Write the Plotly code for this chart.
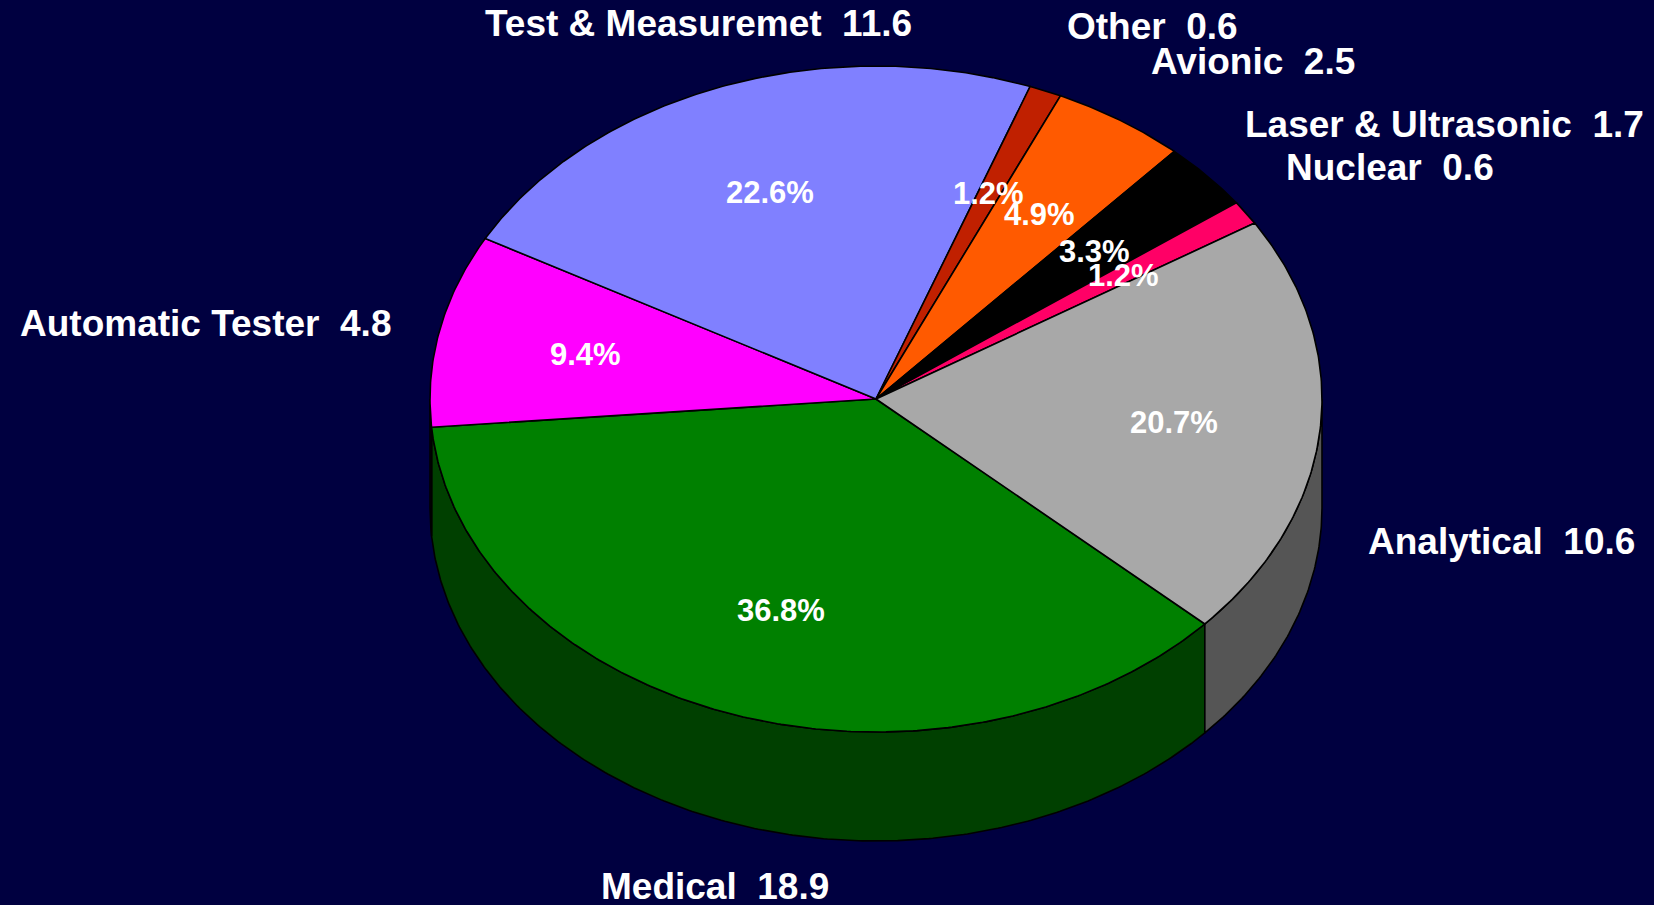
import numpy as np
import plotly.graph_objects as go

# Segment data (values in the units shown on the slide)
segments = ["Medical", "Automatic Tester", "Test & Measuremet", "Other",
            "Avionic", "Laser & Ultrasonic", "Nuclear", "Analytical"]
values = [18.9, 4.8, 11.6, 0.6, 2.5, 1.7, 0.6, 10.6]

top_colors = ["#008000", "#FF00FF", "#8080FF", "#C02000",
              "#FF5A00", "#000000", "#FF0066", "#A8A8A8"]
side_colors = ["#004000", "#800080", "#404080", "#601000",
               "#802D00", "#000000", "#800033", "#555555"]

# label placement (pixel space)
name_pos = [(715, 886), (205, 323), (698, 23), (1152, 26),
            (1253, 61), (1444, 124), (1390, 167), (1501, 541)]
pct_pos = [(781, 610), (585, 354), (770, 192), (988, 193),
           (1039, 214), (1094, 251), (1123, 275), (1174, 422)]

W, H = 1654, 905
BG = "#000040"
cx, cy = 876, 399
rx, ry = 446, 333
depth = 109
start_angle = 42.5   # degrees, clockwise on screen from 3 o'clock


def arc(t0, t1, dy=0):
    ts = np.radians(np.linspace(t0, t1, max(int(abs(t1 - t0) * 2), 2)))
    return cx + rx * np.cos(ts), cy + ry * np.sin(ts) + dy


total = sum(values)
angles = [start_angle]
for v in values:
    angles.append(angles[-1] + v / total * 360)

fig = go.Figure()

# side walls (only the front half of the pie is visible)
for i in range(len(values)):
    a, b = angles[i], angles[i + 1]
    for lo, hi in [(0, 180), (360, 540)]:
        s, e = max(a, lo), min(b, hi)
        if e <= s:
            continue
        xt, yt = arc(s, e)
        xb, yb = arc(s, e, depth)
        xs = np.concatenate([xt, xb[::-1], xt[:1]])
        ys = np.concatenate([yt, yb[::-1], yt[:1]])
        fig.add_trace(go.Scatter(
            x=xs, y=ys, mode="lines", fill="toself",
            fillcolor=side_colors[i], line=dict(color="black", width=1.6),
            hoverinfo="skip", showlegend=False
        ))

# top faces
for i in range(len(values)):
    xa, ya = arc(angles[i], angles[i + 1])
    xs = np.concatenate([[cx], xa, [cx]])
    ys = np.concatenate([[cy], ya, [cy]])
    fig.add_trace(go.Scatter(
        x=xs, y=ys, mode="lines", fill="toself",
        fillcolor=top_colors[i], line=dict(color="black", width=1.6),
        name=segments[i], text=f"{segments[i]}: {values[i]}",
        hoverinfo="text", showlegend=False
    ))

font = "Liberation Sans, Arial, sans-serif"
for i, name in enumerate(segments):
    fig.add_annotation(
        x=name_pos[i][0], y=name_pos[i][1], xref="x", yref="y",
        text=f"<b>{name}  {values[i]}</b>", showarrow=False,
        font=dict(family=font, size=37, color="white")
    )
    fig.add_annotation(
        x=pct_pos[i][0], y=pct_pos[i][1], xref="x", yref="y",
        text=f"<b>{values[i] / total * 100:.1f}%</b>", showarrow=False,
        font=dict(family=font, size=31, color="white")
    )

fig.update_xaxes(range=[0, W], visible=False, fixedrange=True)
fig.update_yaxes(range=[H, 0], visible=False, fixedrange=True)
fig.update_layout(
    width=W, height=H,
    margin=dict(l=0, r=0, t=0, b=0),
    paper_bgcolor=BG, plot_bgcolor=BG,
    showlegend=False
)

# drop the default page margin so the chart fills the window
fig.write_html("out.html",
               config={"displayModeBar": False},
               post_script="document.body.style.margin='0';"
                           "document.body.style.background='" + BG + "';")
